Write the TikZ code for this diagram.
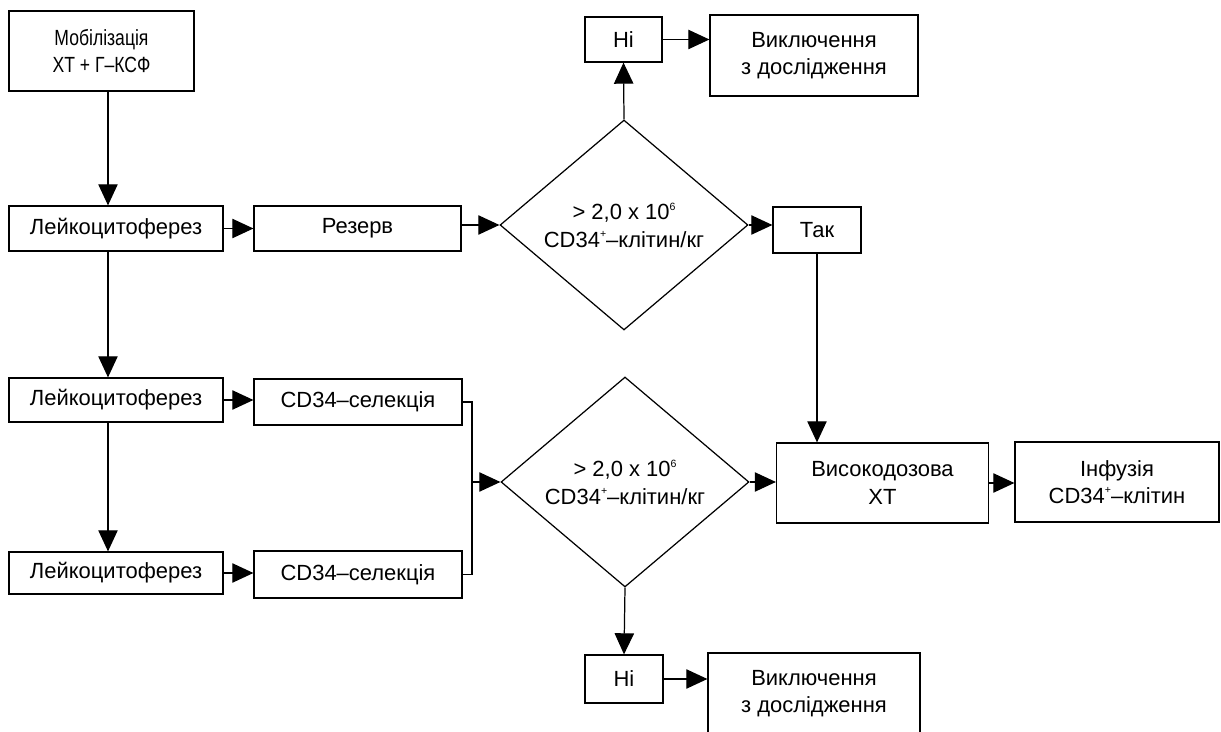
\documentclass[tikz,border=0pt]{standalone}
\usepackage{fontspec}
\setmainfont{Liberation Sans}
\newfontfamily\narrowfont[FakeStretch=0.8]{Liberation Sans}
\usepackage{tikz}
\usetikzlibrary{arrows.meta,positioning,shapes.geometric,calc}
\newcommand{\sups}[1]{\raisebox{0.85ex}{\fontsize{6}{6}\selectfont #1}}
\tikzset{
  fbox/.style={rectangle,draw=black,fill=white,line width=0.7pt,
               minimum width=#1,align=center,inner sep=2pt,
               font=\fontsize{12.5}{15.5}\selectfont},
  fbox/.default=4.2cm,
  arr/.style={-{Triangle[length=12pt,width=11pt]},line width=0.7pt},
}
\begin{document}
\begin{tikzpicture}[x=0.02cm,y=-0.02cm,
        dec/.style={diamond,draw=black,line width=0.7pt,aspect=1.18,
                    inner sep=0pt,minimum width=4.96cm,minimum height=4.2cm,
                    align=center,font=\fontsize{12.5}{15.5}\selectfont},
      ]
        \useasboundingbox (0,0) rectangle (1221,732);

        % ── Left column
        \node[fbox=3.7cm,minimum height=1.6cm,font=\narrowfont\fontsize{12.5}{15.5}\selectfont]
          (mob) at (101.5,51) {Мобілізація\\ХТ + Г–КСФ};
        \node[fbox=4.28cm,minimum height=0.9cm] (lk1) at (116,228.5) {Лейкоцитоферез};
        \node[fbox=4.28cm,minimum height=0.88cm] (lk2) at (116,400) {Лейкоцитоферез};
        \node[fbox=4.28cm,minimum height=0.84cm] (lk3) at (116,573) {Лейкоцитоферез};
        \coordinate (vx) at (108,0);

        % ── Second column
        \node[fbox=4.14cm,minimum height=0.9cm] (res)  at (357.5,228.5) {Резерв};
        \node[fbox=4.16cm,minimum height=0.92cm] (sel1) at (358,402) {CD34–селекція};
        \node[fbox=4.16cm,minimum height=0.94cm] (sel2) at (358,574.5) {CD34–селекція};
        \coordinate (jn) at (472,482);

        % ── Decisions
        \node[dec] (dia1) at (624,225) {> 2,0 x 10\sups{6}\\CD34\sups{+}–клітин/кг};
        \node[dec] (dia2) at (625,482) {> 2,0 x 10\sups{6}\\CD34\sups{+}–клітин/кг};

        % ── Outcomes
        \node[fbox=1.54cm,minimum height=0.9cm] (ni1) at (623.5,39.5) {Ні};
        \node[fbox=4.16cm,minimum height=1.62cm] (ex1) at (814,55.5) {Виключення\\з дослідження};
        \node[fbox=1.76cm,minimum height=0.92cm] (tak) at (817,230) {Так};
        \node[fbox=4.24cm,minimum height=1.6cm] (hd)  at (882.5,483) {Високодозова\\ХТ};
        \node[fbox=4.08cm,minimum height=1.6cm] (inf) at (1117,482) {Інфузія\\CD34\sups{+}–клітин};
        \node[fbox=1.56cm,minimum height=0.96cm] (ni2) at (624,679) {Ні};
        \node[fbox=4.24cm,minimum height=1.62cm] (ex2) at (814,693.5) {Виключення\\з дослідження};

        % ── Arrows
        \draw[arr] (mob.south -| vx) -- (lk1.north -| vx);
        \draw[arr] (lk1.south -| vx) -- (lk2.north -| vx);
        \draw[arr] (lk2.south -| vx) -- (lk3.north -| vx);
        \draw[arr] (lk1.east) -- (lk1.east -| res.west);
        \draw[arr] (lk2.east) -- (lk2.east -| sel1.west);
        \draw[arr] (lk3.east) -- (lk3.east -| sel2.west);
        \draw[arr] (res.east |- dia1.west) -- (dia1.west);
        \draw[line width=0.7pt] (sel1.east) -| (jn) |- (sel2.east);
        \draw[arr] (jn) -- (dia2.west);
        \draw[arr] (dia1.north) -- (ni1.south);
        \draw[arr] (ni1.east) -- (ni1.east -| ex1.west);
        \draw[arr] (dia1.east) -- (dia1.east -| tak.west);
        \draw[arr] (tak.south) -- (tak.south |- hd.north);
        \draw[arr] (dia2.east) -- (dia2.east -| hd.west);
        \draw[arr] (hd.east) -- (hd.east -| inf.west);
        \draw[arr] (dia2.south) -- (ni2.north);
        \draw[arr] (ni2.east) -- (ni2.east -| ex2.west);
      \end{tikzpicture}
\end{document}
